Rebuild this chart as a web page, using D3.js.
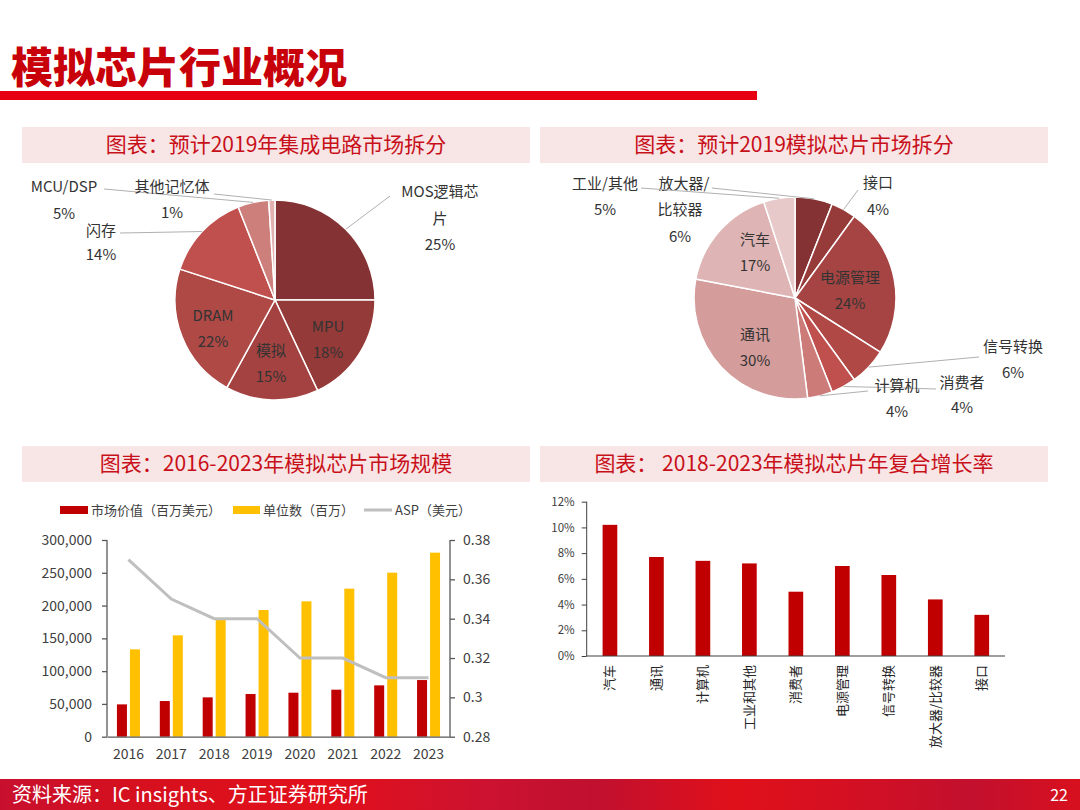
<!DOCTYPE html>
<html><head><meta charset="utf-8">
<script src="https://cdn.jsdelivr.net/npm/d3@7/dist/d3.min.js"></script>
<style>
html,body{margin:0;padding:0;background:#fff;}
svg{display:block;font-family:"Noto Sans CJK SC","Noto Sans",sans-serif;}
</style></head>
<body>
<svg id="c" width="1080" height="810"></svg>
<script>
// ---------------- DATA ----------------
const pageTitle = "模拟芯片行业概况";
const panelTitles = ["图表：预计2019年集成电路市场拆分","图表：预计2019模拟芯片市场拆分","图表：2016-2023年模拟芯片市场规模","图表： 2018-2023年模拟芯片年复合增长率"];
const sourceText = "资料来源：IC insights、方正证券研究所";
const pageNumber = "22";

const icCategories = ["MOS逻辑芯片","MPU","模拟","DRAM","闪存","MCU/DSP","其他记忆体"];
const icShares = [25,18,15,22,14,5,1];

const anaCategories = ["放大器/比较器","接口","电源管理","信号转换","消费者","计算机","通讯","汽车","工业/其他"];
const anaShares = [6,4,24,6,4,4,30,17,5];

const years = ["2016","2017","2018","2019","2020","2021","2022","2023"];
const marketValue = [49300,54400,60000,65100,67100,71700,78300,86400];
const units = [133200,154600,179000,193200,206400,225800,250200,280700];
const asp = [0.37,0.35,0.34,0.34,0.32,0.32,0.31,0.31];
const seriesNames = ["市场价值（百万美元）","单位数（百万）","ASP（美元）"];
const leftTicks = [0,50000,100000,150000,200000,250000,300000];
const rightTicks = [0.28,0.30,0.32,0.34,0.36,0.38];

const cagrCategories = ["汽车","通讯","计算机","工业和其他","消费者","电源管理","信号转换","放大器/比较器","接口"];
const cagrValues = [0.102,0.077,0.074,0.072,0.050,0.070,0.063,0.044,0.032];
const cagrTicks = [0,0.02,0.04,0.06,0.08,0.10,0.12];

// ---------------- STYLE / LAYOUT ----------------
const icColors = ["#843234","#943a39","#a34240","#ae4946","#c0504d","#cd7f7c","#e2b2b1"];
const anaColors = ["#843234","#963b3a","#a54442","#b04946","#c0504d","#cc7b79","#d49c9b","#deb5b4","#e8c9c9"];
const labelColor = "#333333";
const FONT = '"Noto Sans CJK SC","Noto Sans",sans-serif';

const svg = d3.select("#c");

// Title
svg.append("text").attr("x",11).attr("y",83).text(pageTitle)
  .attr("font-size",42).attr("font-weight",900).attr("fill","#c8000a");
svg.append("rect").attr("x",0).attr("y",91).attr("width",757).attr("height",9).attr("fill","#e60012");

// Panel headers
const headerBoxes = [[22,127],[540,127],[22,446],[540,446]];
headerBoxes.forEach((b,i)=>{
  svg.append("rect").attr("x",b[0]).attr("y",b[1]).attr("width",508).attr("height",36).attr("fill","#f8e5e5");
  svg.append("text").attr("x",b[0]+254).attr("y",b[1]+25).attr("text-anchor","middle")
    .attr("font-size",21).attr("fill","#c8101a").text(panelTitles[i]);
});

// Footer
const defs = svg.append("defs");
const grad = defs.append("linearGradient").attr("id","fg").attr("x1","0").attr("x2","1").attr("y1","0").attr("y2","0");
[[0,"#c8102e"],[0.12,"#d5101f"],[0.3,"#e2101a"],[0.45,"#cc1230"],[0.55,"#c01030"],[0.68,"#e0101a"],[0.8,"#d21024"],[0.9,"#c2102e"],[1,"#d8101e"]]
  .forEach(s=>grad.append("stop").attr("offset",s[0]).attr("stop-color",s[1]));
svg.append("rect").attr("x",0).attr("y",779).attr("width",1080).attr("height",31).attr("fill","url(#fg)");
svg.append("text").attr("x",12).attr("y",802).attr("font-size",20).attr("fill","#fff").text(sourceText);
svg.append("text").attr("x",1068).attr("y",801).attr("text-anchor","end").attr("font-size",16).attr("fill","#fff").text(pageNumber);

// ---------------- PIE helper ----------------
function drawPie(cx,cy,R,cats,vals,colors,labelLayout){
  const g = svg.append("g").attr("transform",`translate(${cx},${cy})`);
  const pie = d3.pie().sort(null).value(d=>d)(vals);
  const arc = d3.arc().innerRadius(0).outerRadius(R);
  g.selectAll("path").data(pie).join("path").attr("d",arc)
    .attr("fill",(d,i)=>colors[i]).attr("stroke","#fff").attr("stroke-width",1.5);
  const edge = d3.arc().innerRadius(R).outerRadius(R);
  pie.forEach((d,i)=>{
    const L = labelLayout[i];
    const lines = L.lines.slice();
    lines.push(vals[i]+"%");
    if(L.leader){
      const p = edge.centroid(d);
      const pts = [[L.leader[0]-cx,L.leader[1]-cy]];
      if(L.mid) pts.push([L.mid[0]-cx,L.mid[1]-cy]);
      pts.push(p);
      g.append("path").attr("d",d3.line()(pts)).attr("fill","none").attr("stroke","#b0b0b0").attr("stroke-width",1);
    }
    lines.forEach((t,k)=>{
      g.append("text").attr("x",L.pos[k][0]-cx).attr("y",L.pos[k][1]-cy+5)
        .attr("text-anchor","middle").attr("font-size",15).attr("fill",labelColor).text(t);
    });
  });
}

drawPie(275,300,100,icCategories,icShares,icColors,[
  {lines:["MOS逻辑芯","片"],pos:[[440,192],[440,219],[440,245]],leader:[390,196]},
  {lines:["MPU"],pos:[[328,327],[328,353]]},
  {lines:["模拟"],pos:[[271,351],[271,377]]},
  {lines:["DRAM"],pos:[[213,316],[213,342]]},
  {lines:["闪存"],pos:[[101,231],[101,255]],leader:[120,233]},
  {lines:["MCU/DSP"],pos:[[64,187],[64,214]],leader:[104,189]},
  {lines:["其他记忆体"],pos:[[172,187],[172,213]],leader:[214,194]}
]);

drawPie(795,298,101,anaCategories,anaShares,anaColors,[
  {lines:["放大器/","比较器"],pos:[[684,184],[680,210],[680,237]],leader:[712,188]},
  {lines:["接口"],pos:[[878,183],[878,210]],leader:[858,190]},
  {lines:["电源管理"],pos:[[850,278],[850,304]]},
  {lines:["信号转换"],pos:[[1013,347],[1013,373]],leader:[979,357]},
  {lines:["消费者"],pos:[[962,383],[962,408]],leader:[936,389],mid:[905,388]},
  {lines:["计算机"],pos:[[897,386],[897,412]],leader:[868,391]},
  {lines:["通讯"],pos:[[755,335],[755,361]]},
  {lines:["汽车"],pos:[[755,240],[755,266]]},
  {lines:["工业/其他"],pos:[[605,184],[605,210]],leader:[641,188]}
]);

// ---------------- Combo chart ----------------
(function(){
  const x0=107,x1=450,yTop=540,yBot=736.7;
  const x = d3.scaleBand().domain(years).range([x0,x1]);
  const yL = d3.scaleLinear().domain([0,300000]).range([yBot,yTop]);
  const yR = d3.scaleLinear().domain([0.28,0.38]).range([yBot,yTop]);
  const g = svg.append("g");
  const axisColor = "#595959";
  const bw = 10;
  g.selectAll(".mv").data(marketValue).join("rect")
    .attr("x",(d,i)=>x(years[i])+x.bandwidth()/2-11.5).attr("width",bw)
    .attr("y",d=>yL(d)).attr("height",d=>yBot-yL(d)).attr("fill","#c00000");
  g.selectAll(".un").data(units).join("rect")
    .attr("x",(d,i)=>x(years[i])+x.bandwidth()/2+1.5).attr("width",bw)
    .attr("y",d=>yL(d)).attr("height",d=>yBot-yL(d)).attr("fill","#ffc000");
  g.append("path").datum(asp).attr("d",d3.line().x((d,i)=>x(years[i])+x.bandwidth()/2).y(d=>yR(d)))
    .attr("fill","none").attr("stroke","#bfbfbf").attr("stroke-width",3);
  const fmt = d3.format(",");
  const la = d3.axisLeft(yL).tickValues(leftTicks).tickFormat(d=>fmt(d)).tickSize(5).tickPadding(10);
  const lg = g.append("g").attr("transform",`translate(${x0},0)`).call(la);
  const ra = d3.axisRight(yR).tickValues(rightTicks).tickFormat(d=>d===0.3?"0.3":d3.format(".2f")(d)).tickSize(5).tickPadding(8);
  const rg = g.append("g").attr("transform",`translate(${x1},0)`).call(ra);
  const ba = d3.axisBottom(x).tickSize(0).tickPadding(12);
  const bg = g.append("g").attr("transform",`translate(0,${yBot})`).call(ba);
  [lg,rg,bg].forEach(a=>{
    a.select(".domain").attr("stroke",axisColor).attr("stroke-width",1.3);
    a.selectAll(".tick line").attr("stroke",axisColor).attr("stroke-width",1.3);
    a.selectAll("text").attr("font-size",14).attr("fill","#404040").attr("font-family",FONT);
  });
  lg.select(".domain").attr("d",`M0,${yTop}V${yBot}`);
  rg.select(".domain").attr("d",`M0,${yTop}V${yBot}`);
  const leg = svg.append("g").attr("font-size",13).attr("fill","#404040");
  leg.append("rect").attr("x",60).attr("y",506).attr("width",28).attr("height",8).attr("fill","#c00000");
  leg.append("text").attr("x",91).attr("y",515).text(seriesNames[0]);
  leg.append("rect").attr("x",233).attr("y",506).attr("width",27).attr("height",8).attr("fill","#ffc000");
  leg.append("text").attr("x",263).attr("y",515).text(seriesNames[1]);
  leg.append("line").attr("x1",364).attr("x2",392).attr("y1",510).attr("y2",510).attr("stroke","#bfbfbf").attr("stroke-width",3);
  leg.append("text").attr("x",395).attr("y",515).text(seriesNames[2]);
})();

// ---------------- CAGR chart ----------------
(function(){
  const x0=586.7,x1=1005,yTop=501.7,yBot=656;
  const x = d3.scaleBand().domain(cagrCategories).range([x0,x1]);
  const y = d3.scaleLinear().domain([0,0.12]).range([yBot,yTop]);
  const g = svg.append("g");
  const bw = 14.7;
  g.selectAll("rect").data(cagrValues).join("rect")
    .attr("x",(d,i)=>x(cagrCategories[i])+x.bandwidth()/2-bw/2).attr("width",bw)
    .attr("y",d=>y(d)).attr("height",d=>yBot-y(d)).attr("fill","#c00000");
  const la = d3.axisLeft(y).tickValues(cagrTicks).tickFormat(d3.format(".0%")).tickSize(5).tickPadding(7);
  const lg = g.append("g").attr("transform",`translate(${x0},0)`).call(la);
  lg.select(".domain").attr("d",`M0,${yTop}V${yBot}`).attr("stroke","#404040");
  lg.selectAll(".tick line").attr("stroke","#404040");
  lg.selectAll("text").attr("font-size",11.5).attr("fill","#404040").attr("font-family",FONT);
  g.append("line").attr("x1",x0).attr("x2",x1).attr("y1",yBot).attr("y2",yBot).attr("stroke","#404040").attr("stroke-width",1.2);
  cagrCategories.forEach(c=>{
    const cx = x(c)+x.bandwidth()/2;
    g.append("text").attr("transform",`translate(${cx+4.5},${yBot+9}) rotate(-90)`)
      .attr("text-anchor","end").attr("font-size",13).attr("fill","#262626").text(c);
  });
})();
</script>
</body></html>
